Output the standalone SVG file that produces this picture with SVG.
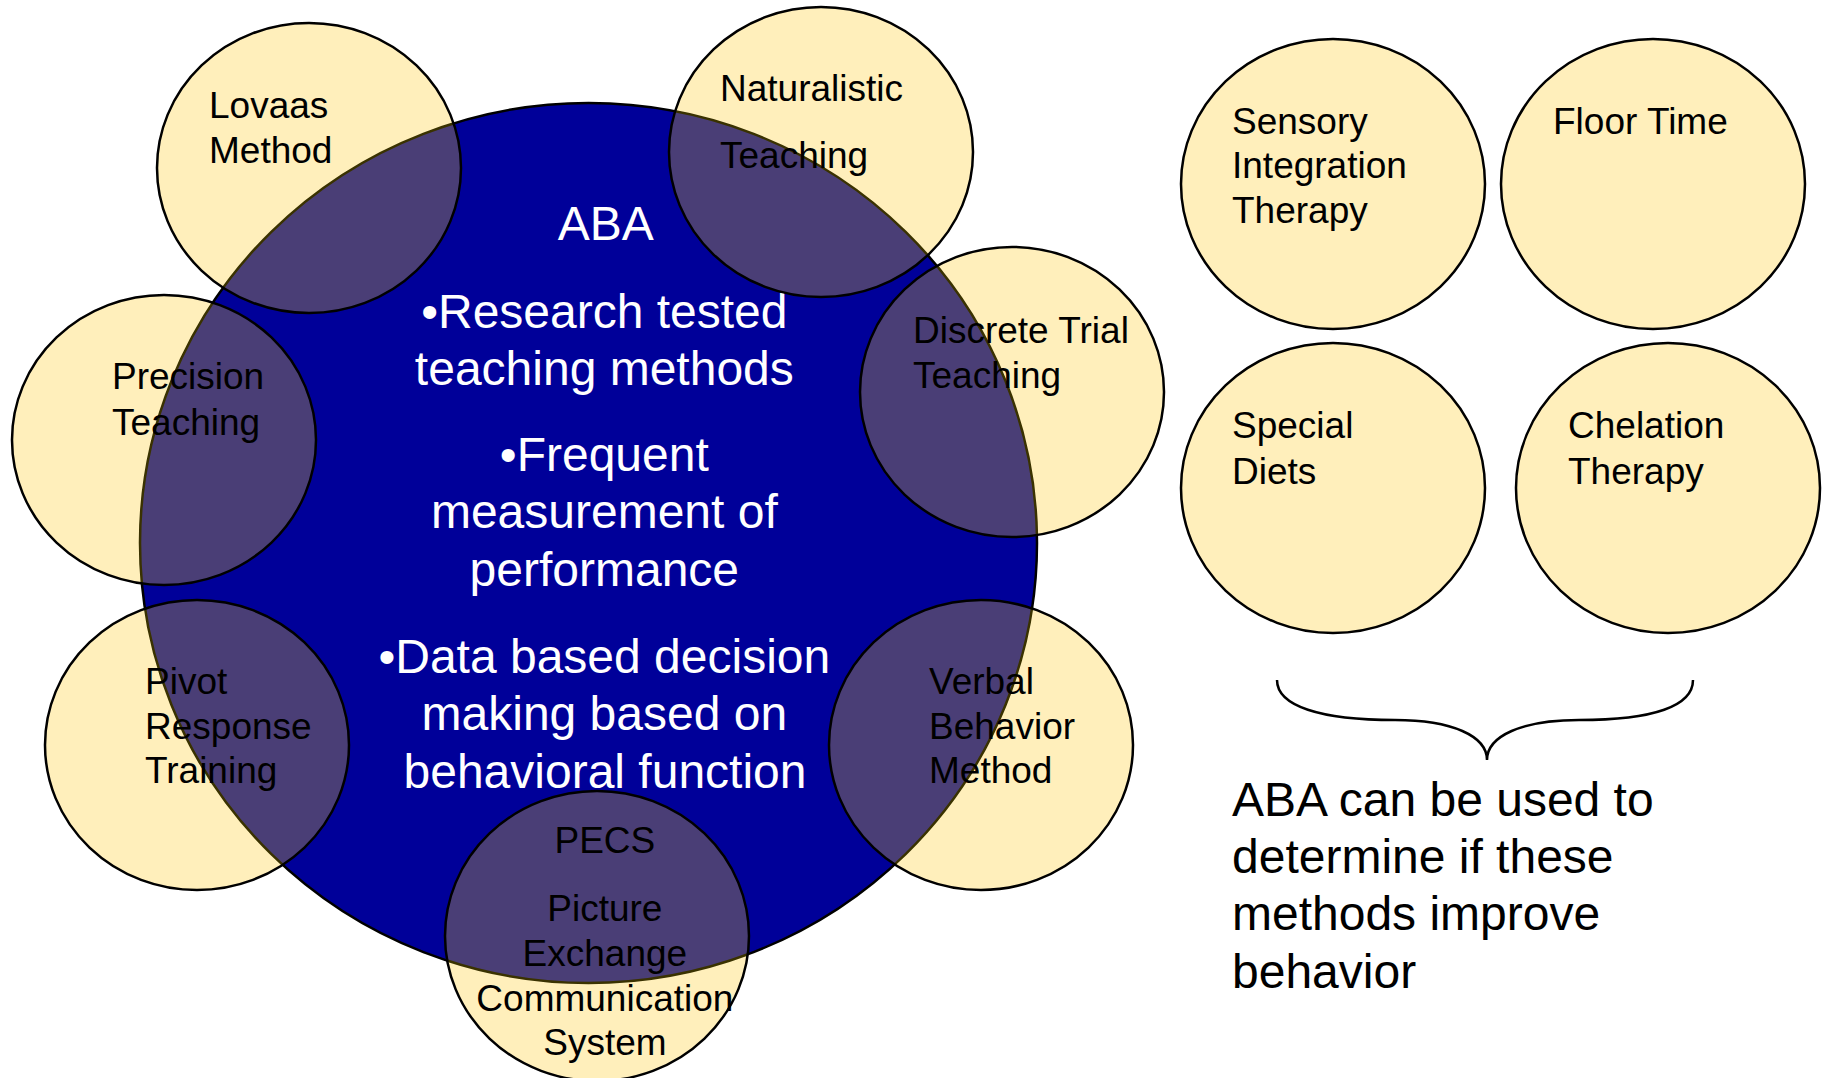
<svg xmlns="http://www.w3.org/2000/svg" xmlns:xlink="http://www.w3.org/1999/xlink" width="1828" height="1078" viewBox="0 0 1828 1078">
  <style>
    .tan{fill:#FFEFBB}
    .overlap{fill:#4A3E76}
    .rim{fill:none;stroke:#3A3200;stroke-width:2.5}
    .ring{fill:none;stroke:#000;stroke-width:2.5}
    .core{fill:#000099;stroke:#000;stroke-width:2.5}
    .lbl{font-family:"Liberation Sans",Arial,sans-serif;font-size:37px;fill:#000}
    .big{font-family:"Liberation Sans",Arial,sans-serif;font-size:48px;fill:#fff;text-anchor:middle}
    .note{font-family:"Liberation Sans",Arial,sans-serif;font-size:48px;fill:#000}
    .brace{fill:none;stroke:#000;stroke-width:2.5}
  </style>
  <defs>
    <ellipse id="aba" cx="588.5" cy="543" rx="448.5" ry="440"/>
    <clipPath id="inAba"><use href="#aba"/></clipPath>
    <ellipse id="sh-lovaas" cx="309" cy="168" rx="152" ry="145"/>
    <ellipse id="sh-natural" cx="821" cy="152" rx="152" ry="145"/>
    <ellipse id="sh-precision" cx="164" cy="440" rx="152" ry="145"/>
    <ellipse id="sh-discrete" cx="1012" cy="392" rx="152" ry="145"/>
    <ellipse id="sh-pivot" cx="197" cy="745" rx="152" ry="145"/>
    <ellipse id="sh-verbal" cx="981" cy="745" rx="152" ry="145"/>
    <ellipse id="sh-pecs" cx="597" cy="936" rx="152" ry="145"/>
    <clipPath id="inLovaas"><use href="#sh-lovaas"/></clipPath>
    <clipPath id="inNatural"><use href="#sh-natural"/></clipPath>
    <clipPath id="inPrecision"><use href="#sh-precision"/></clipPath>
    <clipPath id="inDiscrete"><use href="#sh-discrete"/></clipPath>
    <clipPath id="inPivot"><use href="#sh-pivot"/></clipPath>
    <clipPath id="inVerbal"><use href="#sh-verbal"/></clipPath>
    <clipPath id="inPecs"><use href="#sh-pecs"/></clipPath>
  </defs>

  <rect width="1828" height="1078" fill="#fff"/>

  <!-- central ABA circle -->
  <g id="aba-core">
    <use href="#aba" class="core"/>
    <text class="big">
      <tspan x="611" y="240">ABA</tspan>
      <tspan x="611" y="328">•Research tested</tspan>
      <tspan x="611" y="385">teaching methods</tspan>
      <tspan x="611" y="471">•Frequent</tspan>
      <tspan x="611" y="528">measurement of</tspan>
      <tspan x="611" y="586">performance</tspan>
      <tspan x="611" y="673">•Data based decision</tspan>
      <tspan x="611" y="730">making based on</tspan>
      <tspan x="605" y="788">behavioral function</tspan>
    </text>
  </g>

  <!-- methods overlapping ABA -->
  <g id="lovaas">
    <use href="#sh-lovaas" class="tan"/>
    <use href="#sh-lovaas" class="overlap" clip-path="url(#inAba)"/>
    <use href="#aba" class="rim" clip-path="url(#inLovaas)"/>
    <use href="#sh-lovaas" class="ring"/>
    <text class="lbl"><tspan x="209" y="118">Lovaas</tspan><tspan x="209" y="163">Method</tspan></text>
  </g>

  <g id="naturalistic">
    <use href="#sh-natural" class="tan"/>
    <use href="#sh-natural" class="overlap" clip-path="url(#inAba)"/>
    <use href="#aba" class="rim" clip-path="url(#inNatural)"/>
    <use href="#sh-natural" class="ring"/>
    <text class="lbl"><tspan x="720" y="101">Naturalistic</tspan><tspan x="720" y="168">Teaching</tspan></text>
  </g>

  <g id="precision">
    <use href="#sh-precision" class="tan"/>
    <use href="#sh-precision" class="overlap" clip-path="url(#inAba)"/>
    <use href="#aba" class="rim" clip-path="url(#inPrecision)"/>
    <use href="#sh-precision" class="ring"/>
    <text class="lbl"><tspan x="112" y="389">Precision</tspan><tspan x="112" y="435">Teaching</tspan></text>
  </g>

  <g id="discrete-trial">
    <use href="#sh-discrete" class="tan"/>
    <use href="#sh-discrete" class="overlap" clip-path="url(#inAba)"/>
    <use href="#aba" class="rim" clip-path="url(#inDiscrete)"/>
    <use href="#sh-discrete" class="ring"/>
    <text class="lbl"><tspan x="913" y="343">Discrete Trial</tspan><tspan x="913" y="388">Teaching</tspan></text>
  </g>

  <g id="pivot-response">
    <use href="#sh-pivot" class="tan"/>
    <use href="#sh-pivot" class="overlap" clip-path="url(#inAba)"/>
    <use href="#aba" class="rim" clip-path="url(#inPivot)"/>
    <use href="#sh-pivot" class="ring"/>
    <text class="lbl"><tspan x="145" y="694">Pivot</tspan><tspan x="145" y="739">Response</tspan><tspan x="145" y="783">Training</tspan></text>
  </g>

  <g id="verbal-behavior">
    <use href="#sh-verbal" class="tan"/>
    <use href="#sh-verbal" class="overlap" clip-path="url(#inAba)"/>
    <use href="#aba" class="rim" clip-path="url(#inVerbal)"/>
    <use href="#sh-verbal" class="ring"/>
    <text class="lbl"><tspan x="929" y="694">Verbal</tspan><tspan x="929" y="739">Behavior</tspan><tspan x="929" y="783">Method</tspan></text>
  </g>

  <g id="pecs">
    <use href="#sh-pecs" class="tan"/>
    <use href="#sh-pecs" class="overlap" clip-path="url(#inAba)"/>
    <use href="#aba" class="rim" clip-path="url(#inPecs)"/>
    <use href="#sh-pecs" class="ring"/>
    <text class="lbl" text-anchor="middle">
      <tspan x="610" y="853">PECS</tspan>
      <tspan x="610" y="921">Picture</tspan>
      <tspan x="610" y="966">Exchange</tspan>
      <tspan x="610" y="1011">Communication</tspan>
      <tspan x="605" y="1055">System</tspan>
    </text>
  </g>

  <!-- other therapies -->
  <g id="sensory-integration">
    <ellipse cx="1333" cy="184" rx="152" ry="145" class="tan"/>
    <ellipse cx="1333" cy="184" rx="152" ry="145" class="ring"/>
    <text class="lbl"><tspan x="1232" y="134">Sensory</tspan><tspan x="1232" y="178">Integration</tspan><tspan x="1232" y="223">Therapy</tspan></text>
  </g>

  <g id="floor-time">
    <ellipse cx="1653" cy="184" rx="152" ry="145" class="tan"/>
    <ellipse cx="1653" cy="184" rx="152" ry="145" class="ring"/>
    <text class="lbl"><tspan x="1553" y="134">Floor Time</tspan></text>
  </g>

  <g id="special-diets">
    <ellipse cx="1333" cy="488" rx="152" ry="145" class="tan"/>
    <ellipse cx="1333" cy="488" rx="152" ry="145" class="ring"/>
    <text class="lbl"><tspan x="1232" y="438">Special</tspan><tspan x="1232" y="484">Diets</tspan></text>
  </g>

  <g id="chelation">
    <ellipse cx="1668" cy="488" rx="152" ry="145" class="tan"/>
    <ellipse cx="1668" cy="488" rx="152" ry="145" class="ring"/>
    <text class="lbl"><tspan x="1568" y="438">Chelation</tspan><tspan x="1568" y="484">Therapy</tspan></text>
  </g>

  <!-- brace gathering the four therapies -->
  <g id="connectors">
    <path class="brace" d="M1277,680 C1277,706 1320,720 1395,720 C1452,720 1487,736 1487,760 C1487,736 1522,720 1579,720 C1654,720 1693,706 1693,680"/>
  </g>

  <g id="note">
    <text class="note">
      <tspan x="1232" y="816">ABA can be used to</tspan>
      <tspan x="1232" y="873">determine if these</tspan>
      <tspan x="1232" y="930">methods improve</tspan>
      <tspan x="1232" y="988">behavior</tspan>
    </text>
  </g>
</svg>
